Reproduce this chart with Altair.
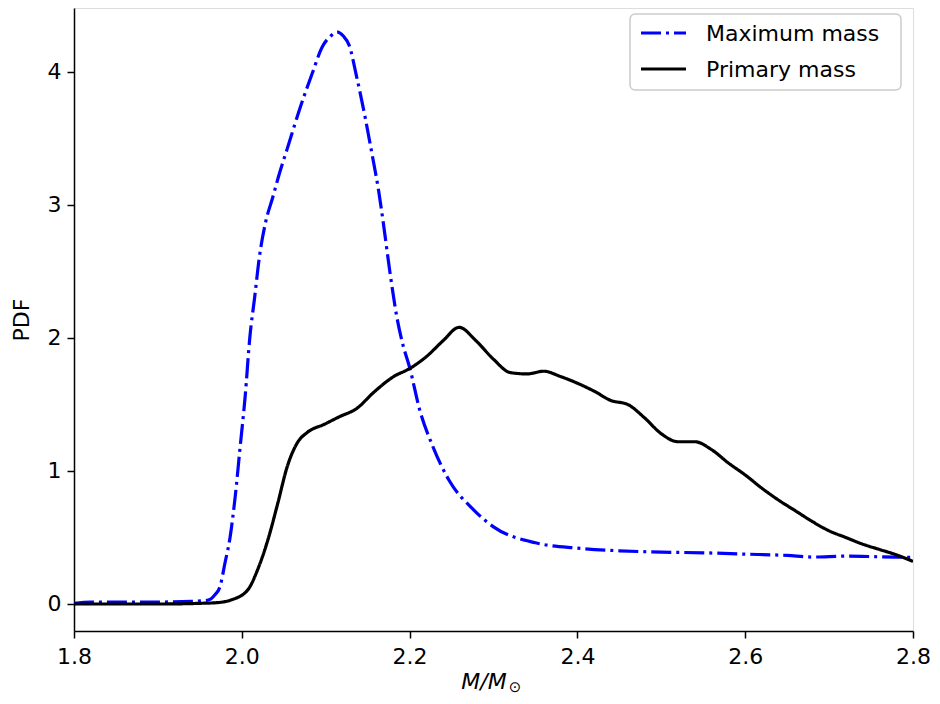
import altair as alt
import pandas as pd

# Maximum mass (blue, dash-dot)
max_m = [1.80, 1.82, 1.85, 1.90, 1.94, 1.96, 1.968, 1.974, 1.980, 1.986, 1.992, 1.998,
         2.004, 2.0095, 2.0154, 2.021, 2.028, 2.037, 2.045, 2.054, 2.070, 2.084, 2.096,
         2.106, 2.114, 2.121, 2.128, 2.137, 2.147, 2.155, 2.163, 2.169, 2.176, 2.185,
         2.192, 2.200, 2.212, 2.228, 2.247, 2.276, 2.30, 2.35, 2.40, 2.45, 2.50, 2.55,
         2.60, 2.65, 2.68, 2.72, 2.76, 2.80]
max_pdf = [0.005, 0.015, 0.015, 0.015, 0.02, 0.03, 0.07, 0.13, 0.31, 0.50, 0.80, 1.18,
           1.56, 2.00, 2.31, 2.61, 2.86, 3.06, 3.24, 3.42, 3.74, 3.99, 4.19,
           4.27, 4.30, 4.27, 4.20, 3.96, 3.66, 3.39, 3.11, 2.85, 2.52, 2.15,
           1.95, 1.78, 1.46, 1.18, 0.93, 0.71, 0.58, 0.46, 0.42, 0.40, 0.39, 0.385,
           0.375, 0.365, 0.353, 0.36, 0.355, 0.35]

# Primary mass (black, solid)
pri_m = [1.80, 1.90, 1.95, 1.97, 1.987, 2.007, 2.019, 2.031, 2.043, 2.054, 2.066, 2.078,
         2.098, 2.117, 2.137, 2.157, 2.181, 2.200, 2.220, 2.240, 2.259, 2.279, 2.30,
         2.32, 2.34, 2.36, 2.38, 2.40, 2.42, 2.44, 2.46, 2.48, 2.50, 2.52, 2.54, 2.56,
         2.58, 2.60, 2.62, 2.64, 2.66, 2.68, 2.70, 2.72, 2.74, 2.76, 2.78, 2.80]
pri_pdf = [0.0, 0.0, 0.005, 0.01, 0.03, 0.105, 0.26, 0.48, 0.76, 1.03, 1.21, 1.29,
           1.35, 1.41, 1.47, 1.59, 1.71, 1.77, 1.86, 1.98, 2.08, 1.98, 1.84,
           1.74, 1.73, 1.75, 1.71, 1.66, 1.60, 1.53, 1.50, 1.40, 1.28, 1.22, 1.22, 1.16,
           1.06, 0.97, 0.87, 0.78, 0.70, 0.62, 0.55, 0.50, 0.45, 0.41, 0.37, 0.32]

series_names = ["Maximum mass", "Primary mass"]
series_colors = ["#0000ff", "#000000"]
series_dashes = [[20, 5, 3, 5], [1, 0]]
x_ticks = [1.8, 2.0, 2.2, 2.4, 2.6, 2.8]
y_ticks = [0, 1, 2, 3, 4]

df = pd.concat([
    pd.DataFrame({"m": max_m, "pdf": max_pdf, "series": series_names[0]}),
    pd.DataFrame({"m": pri_m, "pdf": pri_pdf, "series": series_names[1]}),
])

W, H = 839, 623
FONT = "DejaVu Sans"

lines = alt.Chart(df).mark_line(strokeWidth=3.2, interpolate="monotone", clip=True).encode(
    x=alt.X("m:Q", scale=alt.Scale(domain=[1.8, 2.8], nice=False, zero=False),
            axis=alt.Axis(values=x_ticks, format=".1f", title=None, grid=False,
                          tickSize=7, tickWidth=1.5, tickColor="black",
                          domainColor="black", domainWidth=1.5,
                          labelFontSize=22, labelFont=FONT, labelColor="black",
                          labelPadding=8, labelFlush=False)),
    y=alt.Y("pdf:Q", scale=alt.Scale(domain=[-0.203, 4.481], nice=False, zero=False),
            axis=alt.Axis(values=y_ticks, format="d", title="PDF", grid=False,
                          tickSize=7, tickWidth=1.5, tickColor="black",
                          domainColor="black", domainWidth=1.5,
                          labelFontSize=22, labelFont=FONT, labelColor="black",
                          labelPadding=6, titleFontSize=22, titleFont=FONT,
                          titleFontWeight="normal", titleColor="black", titlePadding=14)),
    color=alt.Color("series:N", scale=alt.Scale(domain=series_names, range=series_colors), legend=None),
    strokeDash=alt.StrokeDash("series:N", scale=alt.Scale(domain=series_names, range=series_dashes),
                              legend=None),
    order=alt.Order("m:Q"),
)

# x-axis title: italic M/M with a subscript sun symbol
xt_main = alt.Chart(pd.DataFrame({"t": ["M/M"]})).mark_text(
    fontSize=22, font=FONT, fontStyle="italic", align="center", baseline="alphabetic", color="black"
).encode(text="t:N", x=alt.value(410), y=alt.value(681))

xt_sub = alt.Chart(pd.DataFrame({"t": ["⊙"]})).mark_text(
    fontSize=15, font=FONT, align="center", baseline="alphabetic", color="black"
).encode(text="t:N", x=alt.value(441), y=alt.value(684))

# legend (drawn in the top-right corner, matplotlib style)
leg_df = pd.DataFrame({"series": series_names})
leg_box = alt.Chart(pd.DataFrame({"k": [0]})).mark_rect(
    fill="white", fillOpacity=0.8, stroke="#cccccc", strokeWidth=1.5, cornerRadius=5
).encode(x=alt.value(556), x2=alt.value(827), y=alt.value(6), y2=alt.value(82))

leg_items = []
for i, name in enumerate(series_names):
    row_y = 25 + 36 * i
    sub = alt.Chart(leg_df).transform_filter(alt.datum.series == name)
    leg_items.append(sub.mark_rule(strokeWidth=3.2, color=series_colors[i],
                                   strokeDash=series_dashes[i]).encode(
        x=alt.value(567), x2=alt.value(612), y=alt.value(row_y)))
    leg_items.append(sub.mark_text(fontSize=22, font=FONT, align="left", baseline="middle",
                                   color="black").encode(
        text="series:N", x=alt.value(632), y=alt.value(row_y + 1)))

chart = alt.layer(lines, xt_main, xt_sub, leg_box, *leg_items).properties(
    width=W, height=H,
    autosize=alt.AutoSizeParams(type="none"),
    padding={"left": 66, "top": 0, "right": 19, "bottom": 65},
).configure_view(stroke="black", strokeWidth=1.5).configure(background="white")

chart.save("out.html", embed_options={"renderer": "svg", "actions": False})
